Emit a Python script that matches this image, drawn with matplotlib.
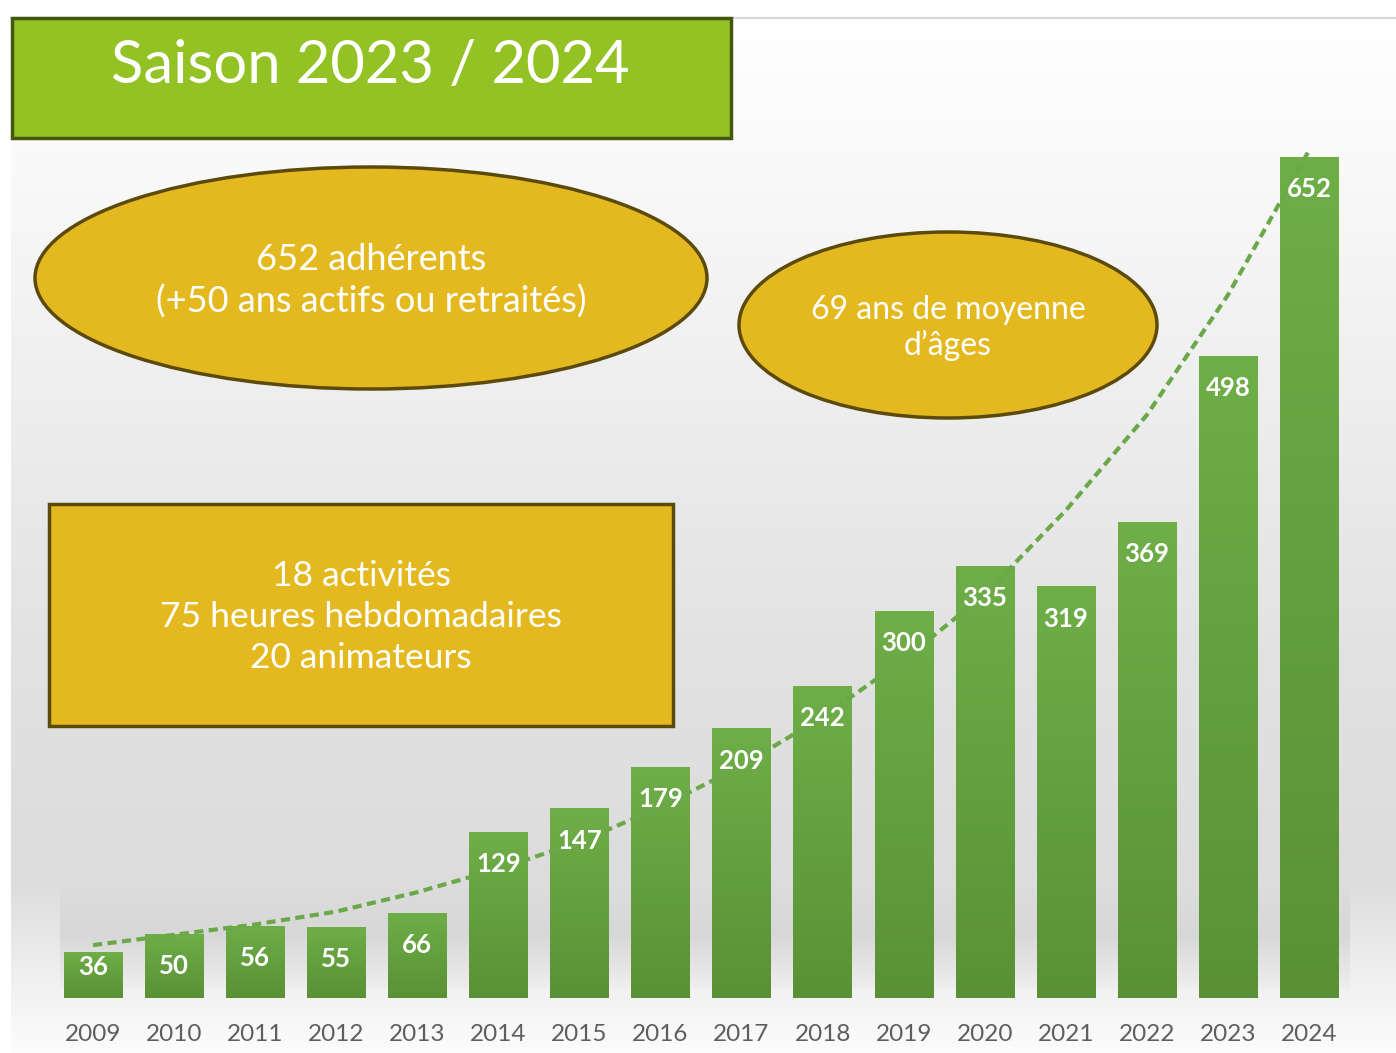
import numpy as np
import matplotlib.pyplot as plt
from matplotlib.patches import Ellipse, Rectangle
from matplotlib.colors import LinearSegmentedColormap

# donnees
annees = ["2009", "2010", "2011", "2012", "2013", "2014", "2015", "2016",
          "2017", "2018", "2019", "2020", "2021", "2022", "2023", "2024"]
adherents = [36, 50, 56, 55, 66, 129, 147, 179, 209, 242, 300, 335, 319, 369, 498, 652]
# courbe de tendance
tendance = [41, 49, 57, 67, 82, 100, 121, 148, 180, 218, 262, 313, 378, 452, 545, 657]

titre = "Saison 2023 / 2024"
texte_ellipse1 = "652 adhérents\n(+50 ans actifs ou retraités)"
texte_ellipse2 = "69 ans de moyenne\nd\u2019âges"
texte_cadre = "18 activités\n75 heures hebdomadaires\n20 animateurs"

W, H = 1396, 1053
fig = plt.figure(figsize=(W / 100, H / 100), dpi=100)

# fond en degrade
bg = fig.add_axes([0, 0, 1, 1], zorder=0)
yy = np.array([17, 150, 400, 650, 880, 990, 1053])
cc = np.array([255, 250, 238, 226, 220, 242, 252])
col = np.interp(np.arange(17, H), yy, cc) / 255.0
grad = np.repeat(col[:, None], 2, axis=1)
bg.imshow(np.dstack([grad, grad, grad]), extent=[11, W, H, 17], aspect="auto")
bg.plot([11, W], [17.5, 17.5], color="#d8d8d8", lw=1.5)
# ombre derriere les barres
ombre = LinearSegmentedColormap.from_list("ombre", ["#dedede", "#c8c8c8", "#ececec"])
sh = np.linspace(0, 1, 50)[:, None] * np.ones((1, 2))
bg.imshow(sh, extent=[60, 1350, 990, 880], aspect="auto", cmap=ombre, alpha=0.5)
bg.set_xlim(0, W)
bg.set_ylim(H, 0)
bg.axis("off")

# barres
ax = fig.add_axes([0, 0, 1, 1], zorder=1)
ax.patch.set_alpha(0)
x = np.arange(len(annees))
vert = LinearSegmentedColormap.from_list("vert", ["#5a9136", "#6eae47"])
barres = ax.bar(x, adherents, width=0.72, color="#65a340", zorder=2)
g = np.linspace(0, 1, 100)[:, None]
for b in barres:
    im = ax.imshow(g, extent=[b.get_x(), b.get_x() + b.get_width(), 0, b.get_height()],
                   origin="lower", aspect="auto", cmap=vert, zorder=2.5)
    im.set_clip_path(b)

ax.plot(x, tendance, color="#6aa84a", lw=3, ls=(0, (2.2, 1.3)), zorder=3)

for xi, v in zip(x, adherents):
    ax.text(xi, max(v - 25, 24), str(v), ha="center", va="center", color="white",
            fontsize=18.5, fontweight="bold", family="Lato", zorder=4)
    ax.text(xi, -28, annees[xi], ha="center", va="center", color="#5e5e5e",
            fontsize=17.5, family="Lato", zorder=4)

ax.set_xlim(-93 / 81.07, (W - 93) / 81.07)
ax.set_ylim(-(H - 998) / 1.29, 998 / 1.29)
ax.axis("off")

# cadres et ellipses
ov = fig.add_axes([0, 0, 1, 1], zorder=2)
ov.patch.set_alpha(0)
ov.set_xlim(0, W)
ov.set_ylim(H, 0)
ov.axis("off")

ov.add_patch(Rectangle((12, 18), 719, 120, facecolor="#93c225", edgecolor="#45570f", lw=2.5))
ov.text(370, 66, titre, ha="center", va="center", color="white", fontsize=43, family="Lato")

jaune = "#e4b920"
bord = "#5b4a0a"
ov.add_patch(Ellipse((371, 278), 672, 222, facecolor=jaune, edgecolor=bord, lw=2.5))
ov.text(371, 281, texte_ellipse1, ha="center", va="center", color="white",
        fontsize=26, family="Lato", linespacing=1.3)

ov.add_patch(Ellipse((948, 325), 418, 186, facecolor=jaune, edgecolor=bord, lw=2.5))
ov.text(948, 328, texte_ellipse2, ha="center", va="center", color="white",
        fontsize=23, family="Lato", linespacing=1.2)

ov.add_patch(Rectangle((49, 504), 624, 222, facecolor=jaune, edgecolor=bord, lw=2.5))
ov.text(361, 617, texte_cadre, ha="center", va="center", color="white",
        fontsize=25.5, family="Lato", linespacing=1.35)

fig.savefig("out.png", dpi=100)
